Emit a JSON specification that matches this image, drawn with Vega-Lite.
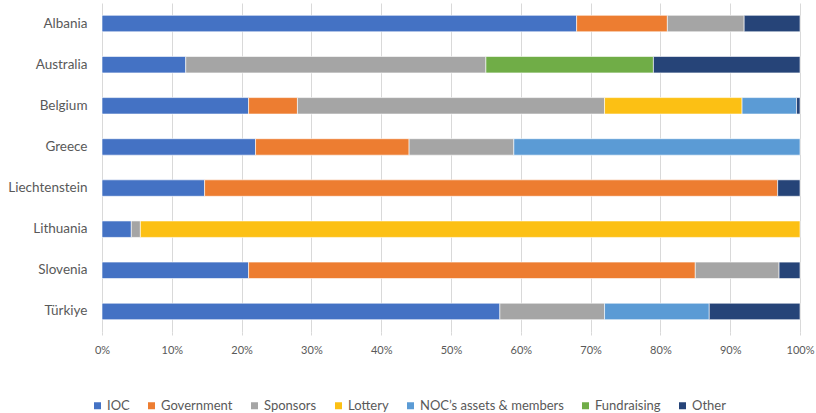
{
  "$schema": "https://vega.github.io/schema/vega-lite/v6.json",
  "autosize": {"type": "none"},
  "padding": {"left": 102, "top": 3, "right": 16, "bottom": 81},
  "width": 698,
  "height": 329,
  "config": {
    "view": {"stroke": null},
    "font": "Lato",
    "axis": {"labelColor": "#595959", "labelFont": "Lato", "title": null}
  },
  "datasets": {
    "sources": [
      {"source": "IOC", "rank": 1},
      {"source": "Government", "rank": 2},
      {"source": "Sponsors", "rank": 3},
      {"source": "Lottery", "rank": 4},
      {"source": "NOC’s assets & members", "rank": 5},
      {"source": "Fundraising", "rank": 6},
      {"source": "Other", "rank": 7}
    ]
  },
  "data": {
    "values": [
      {"country": "Albania", "source": "IOC", "share": 68},
      {"country": "Albania", "source": "Government", "share": 13},
      {"country": "Albania", "source": "Sponsors", "share": 11},
      {"country": "Albania", "source": "Other", "share": 8},
      {"country": "Australia", "source": "IOC", "share": 12},
      {"country": "Australia", "source": "Sponsors", "share": 43},
      {"country": "Australia", "source": "Fundraising", "share": 24},
      {"country": "Australia", "source": "Other", "share": 21},
      {"country": "Belgium", "source": "IOC", "share": 21},
      {"country": "Belgium", "source": "Government", "share": 7},
      {"country": "Belgium", "source": "Sponsors", "share": 44},
      {"country": "Belgium", "source": "Lottery", "share": 19.7},
      {"country": "Belgium", "source": "NOC’s assets & members", "share": 7.8},
      {"country": "Belgium", "source": "Other", "share": 0.5},
      {"country": "Greece", "source": "IOC", "share": 22},
      {"country": "Greece", "source": "Government", "share": 22},
      {"country": "Greece", "source": "Sponsors", "share": 15},
      {"country": "Greece", "source": "NOC’s assets & members", "share": 41},
      {"country": "Liechtenstein", "source": "IOC", "share": 14.7},
      {"country": "Liechtenstein", "source": "Government", "share": 82.1},
      {"country": "Liechtenstein", "source": "Other", "share": 3.2},
      {"country": "Lithuania", "source": "IOC", "share": 4.2},
      {"country": "Lithuania", "source": "Sponsors", "share": 1.3},
      {"country": "Lithuania", "source": "Lottery", "share": 94.5},
      {"country": "Slovenia", "source": "IOC", "share": 21},
      {"country": "Slovenia", "source": "Government", "share": 64},
      {"country": "Slovenia", "source": "Sponsors", "share": 12},
      {"country": "Slovenia", "source": "Other", "share": 3},
      {"country": "Türkiye", "source": "IOC", "share": 57},
      {"country": "Türkiye", "source": "Sponsors", "share": 15},
      {"country": "Türkiye", "source": "NOC’s assets & members", "share": 15},
      {"country": "Türkiye", "source": "Other", "share": 13}
    ]
  },
  "transform": [
    {"lookup": "source", "from": {"data": {"name": "sources"}, "key": "source", "fields": ["rank"]}}
  ],
  "mark": {"type": "bar", "stroke": "white", "strokeWidth": 0.6},
  "encoding": {
    "y": {
      "field": "country",
      "type": "nominal",
      "sort": null,
      "scale": {"paddingInner": 0.6, "paddingOuter": 0.3},
      "axis": {"ticks": false, "domain": false, "labelPadding": 15, "labelFontSize": 13.5, "grid": false}
    },
    "x": {
      "field": "share",
      "type": "quantitative",
      "stack": "normalize",
      "scale": {"domain": [0, 1], "nice": false},
      "axis": {
        "format": ".0%",
        "values": [0, 0.1, 0.2, 0.3, 0.4, 0.5, 0.6, 0.7, 0.8, 0.9, 1],
        "grid": true,
        "gridColor": "#d9d9d9",
        "domain": false,
        "ticks": true,
        "tickSize": 3,
        "tickColor": "#d9d9d9",
        "labelPadding": 9,
        "labelFontSize": 11,
        "labelFlush": false
      }
    },
    "order": {"field": "rank", "type": "quantitative", "sort": "ascending"},
    "color": {
      "field": "source",
      "type": "nominal",
      "sort": ["IOC", "Government", "Sponsors", "Lottery", "NOC’s assets & members", "Fundraising", "Other"],
      "scale": {
        "domain": ["IOC", "Government", "Sponsors", "Lottery", "NOC’s assets & members", "Fundraising", "Other"],
        "range": ["#4472C4", "#ED7D31", "#A5A5A5", "#FCC014", "#5B9BD5", "#70AD47", "#264478"]
      },
      "legend": {
        "title": null,
        "orient": "none",
        "direction": "horizontal",
        "columns": 7,
        "legendX": -11,
        "legendY": 396,
        "symbolType": "square",
        "symbolSize": 49,
        "symbolStrokeWidth": 0,
        "labelOffset": 3,
        "columnPadding": 15,
        "labelFontSize": 13,
        "labelColor": "#595959",
        "labelFont": "Lato"
      }
    }
  }
}
